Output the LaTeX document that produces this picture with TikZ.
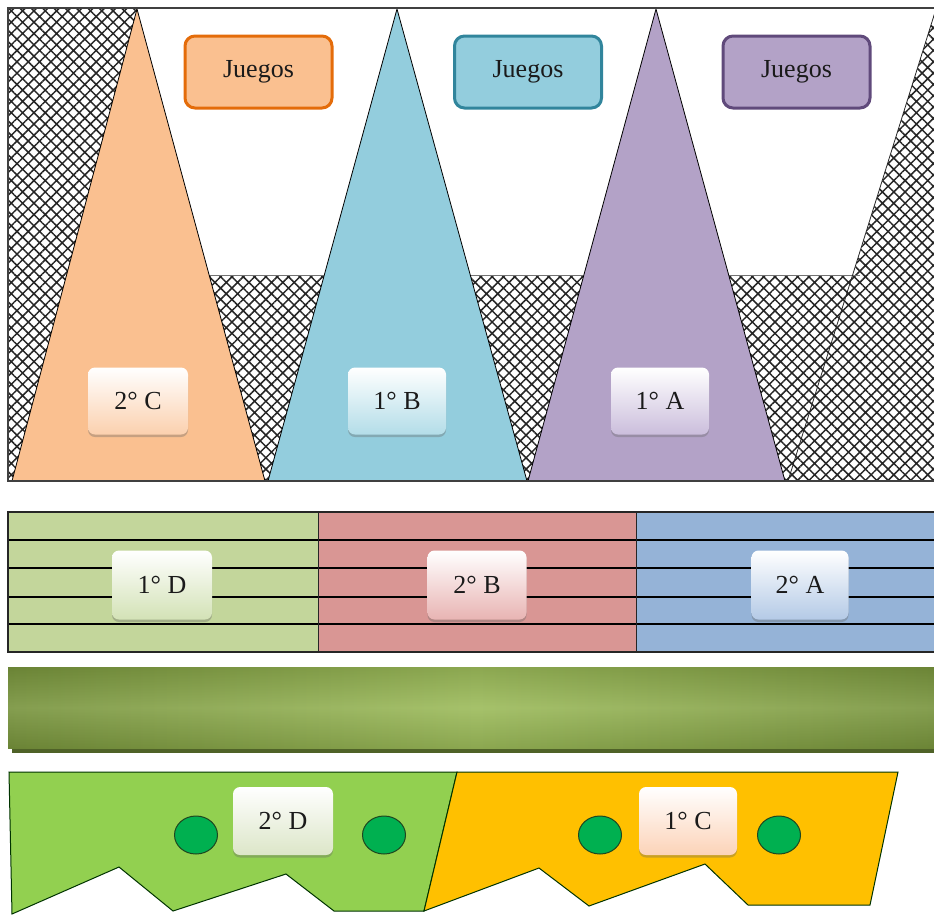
\documentclass[tikz,border=0pt]{standalone}
\usepackage{fontspec}
\setmainfont{Liberation Serif}
\usetikzlibrary{patterns.meta,shadows,shapes.geometric}
\definecolor{triO}{HTML}{FAC090}
\definecolor{triB}{HTML}{93CDDD}
\definecolor{triP}{HTML}{B3A2C7}
\definecolor{brdO}{HTML}{E46C0A}
\definecolor{brdB}{HTML}{31859C}
\definecolor{brdP}{HTML}{604A7B}
\definecolor{tintO}{HTML}{FBD0AE}
\definecolor{tintB}{HTML}{B3DDE8}
\definecolor{tintP}{HTML}{CBBEDC}
\definecolor{stG}{HTML}{C3D69B}
\definecolor{stR}{HTML}{D99694}
\definecolor{stB}{HTML}{95B3D7}
\definecolor{tintG}{HTML}{D3E2B6}
\definecolor{tintR}{HTML}{E8B4B3}
\definecolor{tintBl}{HTML}{B4CAE6}
\definecolor{gbDark}{HTML}{77933C}
\definecolor{gbLight}{HTML}{9CBB5A}
\definecolor{gbShadow}{HTML}{4F6228}
\definecolor{polyG}{HTML}{92D050}
\definecolor{polyY}{HTML}{FFC000}
\definecolor{dotG}{HTML}{00B050}
\definecolor{dotBrd}{HTML}{1E4620}
\definecolor{tintD}{HTML}{DCE6C8}
\definecolor{tintC}{HTML}{FCD3B8}
\definecolor{txt}{HTML}{1A1A1A}
\begin{document}
\begin{tikzpicture}[x=1pt,y=-1pt,
  hatchfill/.style={pattern={Hatch[angle=45,distance=8pt,line width=1.5pt]},pattern color=black!85},
  tri/.style={draw=black,line width=0.8pt},
  juegos/.style={rounded corners=10pt,line width=3pt,minimum width=147pt,minimum height=72pt,
    text=txt,font=\fontsize{26}{30}\selectfont},
  clsbox/.style={rounded corners=7pt,minimum width=100pt,minimum height=67pt,text=txt,
    font=\fontsize{26}{30}\selectfont,top color=white,
    drop shadow={shadow xshift=0pt,shadow yshift=-2.5pt,opacity=0.35,fill=black!60}},
  stripline/.style={draw=black,line width=1.5pt},
  dot/.style={ellipse,draw=dotBrd,line width=1pt,fill=dotG,minimum width=43pt,minimum height=38pt,inner sep=0pt},
  polyline/.style={draw=black!80!green,line width=1pt,line join=miter}
]
\useasboundingbox (0,0) rectangle (934,916);
\clip (0,0) rectangle (934,916);
% ---------- top section: hatching (non-overlapping pieces) ----------
\fill[hatchfill] (8,275) rectangle (945,481);
\fill[hatchfill] (8,9) rectangle (137,275);
\fill[hatchfill] (853,275) -- (936,9) -- (945,9) -- (945,275) -- cycle;
\draw[black!55,line width=0.7pt] (205,275) -- (330,275) (465,275) -- (590,275) (725,275) -- (860,275);
\draw[black!85,line width=0.8pt] (788,481) -- (936,9);
% ---------- triangles ----------
\filldraw[tri,fill=triO] (137,9) -- (265,481) -- (12,481) -- cycle;
\filldraw[tri,fill=triB] (397,9) -- (527,481) -- (268,481) -- cycle;
\filldraw[tri,fill=triP] (656,9) -- (785,481) -- (528,481) -- cycle;
% frame
\draw[black!75,line width=1.6pt] (945,8) -- (8,8) -- (8,481) -- (945,481);
% Juegos boxes
\node[juegos,draw=brdO,fill=triO] (jO) at (258.5,72) {Juegos};
\node[juegos,draw=brdB,fill=triB] (jB) at (528,72) {Juegos};
\node[juegos,draw=brdP,fill=triP] (jP) at (796.5,72) {Juegos};
% class labels in triangles
\node[clsbox,bottom color=tintO] (c2C) at (138,401) {2° C};
\node[clsbox,bottom color=tintB,minimum width=98pt] (c1B) at (397,401) {1° B};
\node[clsbox,bottom color=tintP,minimum width=98pt] (c1A) at (660,401) {1° A};
% ---------- striped strip ----------
\fill[stG] (8,512) rectangle (318,652);
\fill[stR] (318,512) rectangle (636,652);
\fill[stB] (636,512) rectangle (945,652);
\foreach \yy in {540,568,597,624} \draw[stripline] (8,\yy) -- (945,\yy);
\draw[black!85,line width=1.5pt] (945,512) -- (8,512) -- (8,652) -- (945,652);
\draw[black!85,line width=1pt] (318,512) -- (318,652) (636,512) -- (636,652);
\node[clsbox,bottom color=tintG,minimum height=69pt] (c1D) at (162,585) {1° D};
\node[clsbox,bottom color=tintR,minimum height=69pt,minimum width=99pt] (c2B) at (477,585) {2° B};
\node[clsbox,bottom color=tintBl,minimum height=69pt,minimum width=97pt] (c2A) at (800,585) {2° A};
% ---------- green bar ----------
\fill[gbShadow] (12,744) rectangle (945,753);
\shade[left color=gbDark,right color=gbDark,middle color=gbLight] (8,667) rectangle (945,748);
\shade[top color=black,bottom color=black,middle color=white,opacity=0.10] (8,667) rectangle (945,748);
% ---------- bottom polygons ----------
\filldraw[polyline,fill=polyG] (9,772) -- (457,772) -- (424,911) -- (334,911) -- (286,874)
  -- (173,911) -- (119,867) -- (12,914) -- cycle;
\filldraw[polyline,fill=polyY] (457,772) -- (898,772) -- (870,905) -- (748,905) -- (705,864)
  -- (589,906) -- (539,868) -- (424,911) -- cycle;
\node[dot] (d1) at (196,835) {};
\node[dot] (d2) at (384,835) {};
\node[dot] (d3) at (600,835) {};
\node[dot] (d4) at (779,835) {};
\node[clsbox,bottom color=tintD,minimum height=68pt] (c2D) at (283,821) {2° D};
\node[clsbox,bottom color=tintC,minimum height=68pt,minimum width=98pt] (c1C) at (688,821) {1° C};
\end{tikzpicture}
\end{document}
